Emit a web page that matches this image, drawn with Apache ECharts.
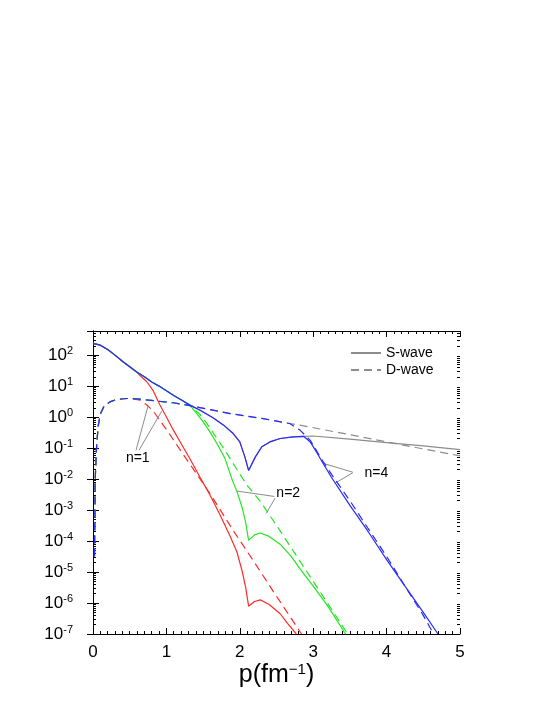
<!DOCTYPE html>
<html>
<head>
<meta charset="utf-8">
<script src="https://cdn.jsdelivr.net/npm/echarts@6/dist/echarts.min.js"></script>
<style>
  html, body { margin: 0; padding: 0; background: #fff; }
  #chart { width: 554px; height: 717px; }
</style>
</head>
<body>
<div id="chart"></div>
<script>
// exact wave functions (gray)
const pS = [0, 0.1, 0.2, 0.3, 0.4, 0.5, 0.6, 0.7, 0.8, 0.9, 1.0, 1.1, 1.2, 1.32, 1.46, 1.64, 1.78, 1.91, 2.0, 2.07, 2.12, 2.21, 2.3, 2.41, 2.55, 2.73, 2.87, 3.0, 3.5, 4.0, 4.5, 5.0]
const sWave = [240, 209, 151, 100, 63, 42, 28, 20, 13.5, 10, 7.1, 5.0, 3.6, 2.43, 1.66, 0.93, 0.55, 0.295, 0.158, 0.051, 0.019, 0.051, 0.11, 0.158, 0.204, 0.229, 0.24, 0.245, 0.195, 0.151, 0.117, 0.089]
const pD = [0.02, 0.03, 0.05, 0.07, 0.1, 0.15, 0.23, 0.3, 0.41, 0.5, 0.64, 0.87, 1.09, 1.32, 1.6, 1.87, 2.32, 2.68, 2.82, 3.5, 4.15, 5.0]
const dWave = [3.2e-5, 0.01, 0.126, 0.5, 1.26, 2.24, 3.1, 3.55, 3.9, 4.0, 3.8, 3.3, 2.9, 2.35, 1.74, 1.3, 0.89, 0.62, 0.55, 0.27, 0.135, 0.056]

// n=1 (red) tails, after leaving the exact curves
const pRedS = [0.64, 0.73, 0.82, 0.91, 1.0, 1.09, 1.2, 1.32, 1.46, 1.59, 1.73, 1.87, 1.96, 2.03, 2.08, 2.12, 2.2, 2.28, 2.4, 2.55, 2.65, 2.77]
const redS = [22, 14.1, 7.1, 2.5, 1.0, 0.4, 0.141, 0.045, 0.0112, 3.2e-3, 7.1e-4, 1.41e-4, 4.5e-5, 1.12e-5, 3.2e-6, 7.9e-7, 1.12e-6, 1.26e-6, 8.9e-7, 4.5e-7, 2.2e-7, 1e-7]
const pRedD = [0.64, 0.73, 0.82, 0.91, 1.0, 1.1, 1.2, 1.33, 1.46, 1.6, 1.73, 1.91, 2.18, 2.46, 2.73, 2.84]
const redD = [3.55, 2.5, 1.58, 0.79, 0.4, 0.178, 0.079, 0.028, 0.01, 3.2e-3, 1.05e-3, 2.2e-4, 2.4e-5, 2.3e-6, 2.5e-7, 1e-7]

// n=2 (green)
const pGreenS = [1.4, 1.5, 1.6, 1.7, 1.8, 1.9, 1.96, 2.03, 2.08, 2.12, 2.2, 2.28, 2.4, 2.55, 2.7, 2.82, 3.0, 3.2, 3.44]
const greenS = [1.41, 0.71, 0.316, 0.126, 0.045, 8.9e-3, 4.0e-3, 1.26e-3, 4.0e-4, 1.05e-4, 1.58e-4, 1.82e-4, 1.41e-4, 7.9e-5, 3.2e-5, 1.26e-5, 3.5e-6, 7.9e-7, 1e-7]
const pGreenD = [1.45, 1.55, 1.65, 1.75, 1.85, 1.95, 2.1, 2.28, 2.5, 2.75, 3.0, 3.25, 3.47]
const greenD = [1.26, 0.63, 0.28, 0.126, 0.054, 0.0224, 6.3e-3, 1.9e-3, 3.2e-4, 4.0e-5, 5.0e-6, 6.3e-7, 1e-7]

// n=4 (blue)
const pBlueS = [2.96, 3.05, 3.15, 3.25, 3.5, 3.75, 4.0, 4.25, 4.5, 4.7]
const blueS = [0.158, 0.071, 0.028, 0.0112, 1.41e-3, 2.0e-4, 2.5e-5, 3.5e-6, 5.0e-7, 1e-7]
const pBlueD = [2.82, 2.96, 3.05, 3.14, 3.25, 3.5, 3.75, 4.0, 4.25, 4.5, 4.64]
const blueD = [0.38, 0.178, 0.079, 0.035, 0.0141, 2.0e-3, 2.5e-4, 3.2e-5, 3.5e-6, 4.0e-7, 1e-7]

// annotations: label [p, value], leader lines [[p, value], [p, value]]
const notes = [
  { text: 'n=1', at: [0.61, 0.047], lines: [[[0.586, 0.085], [0.75, 2.3]], [[0.627, 0.085], [0.936, 1.55]]] },
  { text: 'n=2', at: [2.66, 3.5e-3], lines: [[[2.47, 2.75e-3], [1.96, 4.1e-3]], [[2.48, 2.4e-3], [2.36, 7.8e-4]]] },
  { text: 'n=4', at: [3.86, 0.0158], lines: [[[3.54, 0.0166], [3.14, 0.032]], [[3.54, 0.016], [3.3, 7.4e-3]]] },
]

// log-spaced minor ticks (2..9 in each decade)
const decades = [-7, -6, -5, -4, -3, -2, -1, 0, 1, 2]
const mantissas = [2, 3, 4, 5, 6, 7, 8, 9]
const minorTicks = []
decades.forEach(e => mantissas.forEach(m => {
  const v = m * Math.pow(10, e)
  if (v < 600) minorTicks.push(v)
}))

const zip = (xs, ys) => xs.map((x, i) => [x, ys[i]])
const sPts = zip(pS, sWave)
const dPts = zip(pD, dWave)

const FONT = '"Liberation Sans", Arial, sans-serif'
const GRAY = '#8c8c8c'
const DASH = [8, 5]

const curve = (name, data, color, dashed, extra) => Object.assign({
  name: name,
  type: 'line',
  data: data,
  symbol: 'none',
  smooth: false,
  silent: true,
  lineStyle: { color: color, width: 1.2, type: dashed ? DASH : 'solid' },
  itemStyle: { color: color },
  z: 2,
}, extra || {})

const noteSeries = notes.map(n => ({
  type: 'line',
  data: [],
  silent: true,
  markLine: {
    silent: true,
    symbol: 'none',
    label: { show: false },
    lineStyle: { color: GRAY, width: 1, type: 'solid' },
    data: n.lines.map(l => [{ coord: l[0] }, { coord: l[1] }]),
  },
  markPoint: {
    silent: true,
    symbol: 'circle',
    symbolSize: 1,
    itemStyle: { color: 'rgba(0,0,0,0)' },
    label: { show: true, position: 'inside', color: '#000', fontSize: 14, fontFamily: FONT, formatter: n.text },
    data: [{ coord: n.at }],
  },
}))

const powLabel = v => {
  const lg = Math.log10(v)
  const e = Math.round(lg)
  if (Math.abs(lg - e) > 0.01) return ''
  return '{b|10}{e|' + e + '}'
}

const logAxis = (position, extra) => Object.assign({
  type: 'log', logBase: 10, min: 1e-7, max: 600, splitNumber: 10, position: position,
  axisLine: { show: true, lineStyle: { color: '#000', width: 1 } },
  axisTick: { inside: true, length: 6, lineStyle: { color: '#000' } },
  axisLabel: { show: false },
  splitLine: { show: false },
}, extra || {})

const minorLogAxis = position => logAxis(position, {
  axisLine: { show: false },
  axisTick: { inside: true, length: 3, customValues: minorTicks, lineStyle: { color: '#000' } },
})

const linAxis = (position, extra) => Object.assign({
  type: 'value', min: 0, max: 5, interval: 1, position: position,
  axisLine: { lineStyle: { color: '#000', width: 1 } },
  axisTick: { inside: true, length: 6, lineStyle: { color: '#000' } },
  minorTick: { show: true, splitNumber: 10, length: 3, lineStyle: { color: '#000' } },
  axisLabel: { show: false },
  splitLine: { show: false },
}, extra || {})

const chart = echarts.init(document.getElementById('chart'))
chart.setOption({
  animation: false,
  backgroundColor: '#fff',
  grid: { left: 93, right: 94, top: 331, bottom: 83 },
  legend: {
    left: 350,
    top: 346,
    padding: 0,
    orient: 'vertical',
    itemWidth: 30,
    itemHeight: 14,
    itemGap: 3,
    data: ['S-wave', 'D-wave'],
    itemStyle: { opacity: 0 },
    textStyle: { fontSize: 14, fontFamily: FONT, color: '#000' },
  },
  xAxis: [
    linAxis('bottom', {
      name: '{a|p(fm}{s|−1}{a|)}',
      nameLocation: 'middle',
      nameGap: 26,
      nameTextStyle: {
        rich: {
          a: { fontSize: 25, fontFamily: FONT, color: '#000' },
          s: { fontSize: 15, fontFamily: FONT, color: '#000', verticalAlign: 'top', padding: [0, 0, 12, 0] },
        },
      },
      axisLabel: { margin: 10, fontSize: 17, fontFamily: FONT, color: '#000' },
    }),
    linAxis('top'),
  ],
  yAxis: [
    logAxis('left', {
      axisLabel: {
        margin: 20,
        formatter: powLabel,
        showMaxLabel: false,
        rich: {
          b: { fontSize: 17, fontFamily: FONT, color: '#000' },
          e: { fontSize: 11, fontFamily: FONT, color: '#000', verticalAlign: 'top', padding: [0, 0, 9, 0] },
        },
      },
    }),
    logAxis('right'),
    minorLogAxis('left'),
    minorLogAxis('right'),
  ],
  series: [
    curve('S-wave', sPts, GRAY, false),
    curve('D-wave', dPts, GRAY, true),
    curve('n=1 S', sPts.filter(d => d[0] <= 0.6).concat(zip(pRedS, redS)), '#ff2a2a', false, { z: 3 }),
    curve('n=1 D', dPts.filter(d => d[0] <= 0.5).concat(zip(pRedD, redD)), '#ff2a2a', true, { z: 3 }),
    curve('n=2 S', sPts.filter(d => d[0] <= 1.32).concat(zip(pGreenS, greenS)), '#22e622', false, { z: 4 }),
    curve('n=2 D', dPts.filter(d => d[0] <= 1.32).concat(zip(pGreenD, greenD)), '#22e622', true, { z: 4 }),
    curve('n=4 S', sPts.filter(d => d[0] <= 2.87).concat(zip(pBlueS, blueS)), '#2a2aff', false, { z: 5 }),
    curve('n=4 D', dPts.filter(d => d[0] <= 2.68).concat(zip(pBlueD, blueD)), '#2a2aff', true, { z: 5 }),
  ].concat(noteSeries),
})
</script>
</body>
</html>
